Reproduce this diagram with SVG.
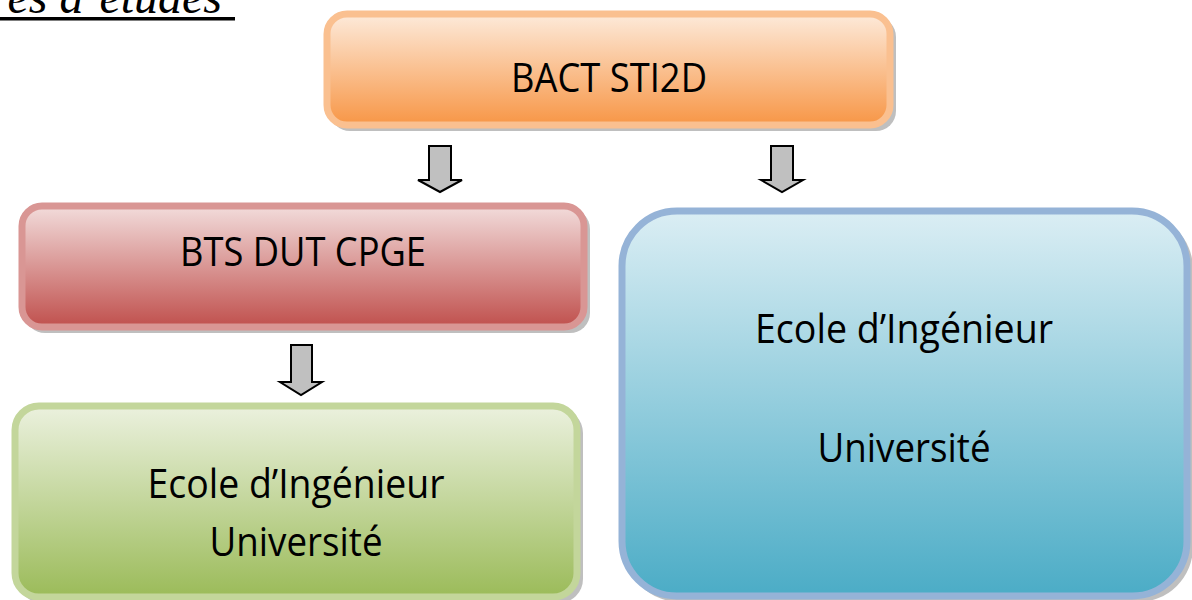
<svg xmlns="http://www.w3.org/2000/svg" width="1192" height="600" viewBox="0 0 1192 600">
<defs>
<linearGradient id="gOrange" x1="0" y1="0" x2="0" y2="1"><stop offset="0" stop-color="#FDEADA"/><stop offset="1" stop-color="#F79646"/></linearGradient>
<linearGradient id="gRed" x1="0" y1="0" x2="0" y2="1"><stop offset="0" stop-color="#F2DCDB"/><stop offset="1" stop-color="#C0504D"/></linearGradient>
<linearGradient id="gGreen" x1="0" y1="0" x2="0" y2="1"><stop offset="0" stop-color="#EBF1DE"/><stop offset="1" stop-color="#9BBB59"/></linearGradient>
<linearGradient id="gBlue" x1="0" y1="0" x2="0" y2="1"><stop offset="0" stop-color="#DBEEF4"/><stop offset="1" stop-color="#4BACC6"/></linearGradient>
<style>
.lbl{font-family:"Open Sans","Noto Sans","DejaVu Sans",sans-serif;font-size:41px;fill:#000;text-anchor:middle}
.shadow{fill:#8a8a8a;opacity:0.55}
.arrow{fill:#C0C0C0;stroke:#000;stroke-width:2;stroke-linejoin:miter}
.title{font-family:"Liberation Serif",serif;font-style:italic;font-size:48px;fill:#000;text-anchor:end}
</style>
</defs>
<rect width="1192" height="600" fill="#fff"/>
<g id="title">
<text class="title" x="222" y="13">es d’études</text>
<rect x="0" y="17" width="235" height="3.5" fill="#000"/>
</g>
<g id="node-bact">
<rect class="shadow" x="330" y="17" width="566" height="114" rx="20"/>
<rect x="327" y="14" width="563" height="111" rx="20" fill="url(#gOrange)" stroke="#FAC090" stroke-width="7"/>
<text class="lbl" x="609" y="92" textLength="196" lengthAdjust="spacingAndGlyphs">BACT STI2D</text>
</g>
<g id="node-bts">
<rect class="shadow" x="25" y="209" width="565" height="124" rx="20"/>
<rect x="22" y="206" width="562" height="121" rx="20" fill="url(#gRed)" stroke="#D99694" stroke-width="7"/>
<text class="lbl" x="303" y="266" textLength="246" lengthAdjust="spacingAndGlyphs">BTS DUT CPGE</text>
</g>
<g id="node-ecole-left">
<rect class="shadow" x="18" y="409" width="565" height="194" rx="24"/>
<rect x="15" y="406" width="562" height="191" rx="24" fill="url(#gGreen)" stroke="#C3D69B" stroke-width="7"/>
<text class="lbl" x="296" y="498" textLength="297" lengthAdjust="spacingAndGlyphs">Ecole d’Ingénieur</text>
<text class="lbl" x="296" y="556" textLength="173" lengthAdjust="spacingAndGlyphs">Université</text>
</g>
<g id="node-ecole-right">
<rect class="shadow" x="625" y="214" width="568" height="388" rx="55"/>
<rect x="622" y="211" width="565" height="385" rx="55" fill="url(#gBlue)" stroke="#95B3D7" stroke-width="7"/>
<text class="lbl" x="904" y="343" textLength="298" lengthAdjust="spacingAndGlyphs">Ecole d’Ingénieur</text>
<text class="lbl" x="904" y="462" textLength="173" lengthAdjust="spacingAndGlyphs">Université</text>
</g>
<g id="connectors">
<path class="arrow" d="M429,146 H451 V180 H462 L440,192 L418,180 H429 Z"/>
<path class="arrow" d="M771,146 H793 V180 H803 L782,192 L761,180 H771 Z"/>
<path class="arrow" d="M291,345 H312 V382 H322 L301,395 L280,382 H291 Z"/>
</g>
</svg>
